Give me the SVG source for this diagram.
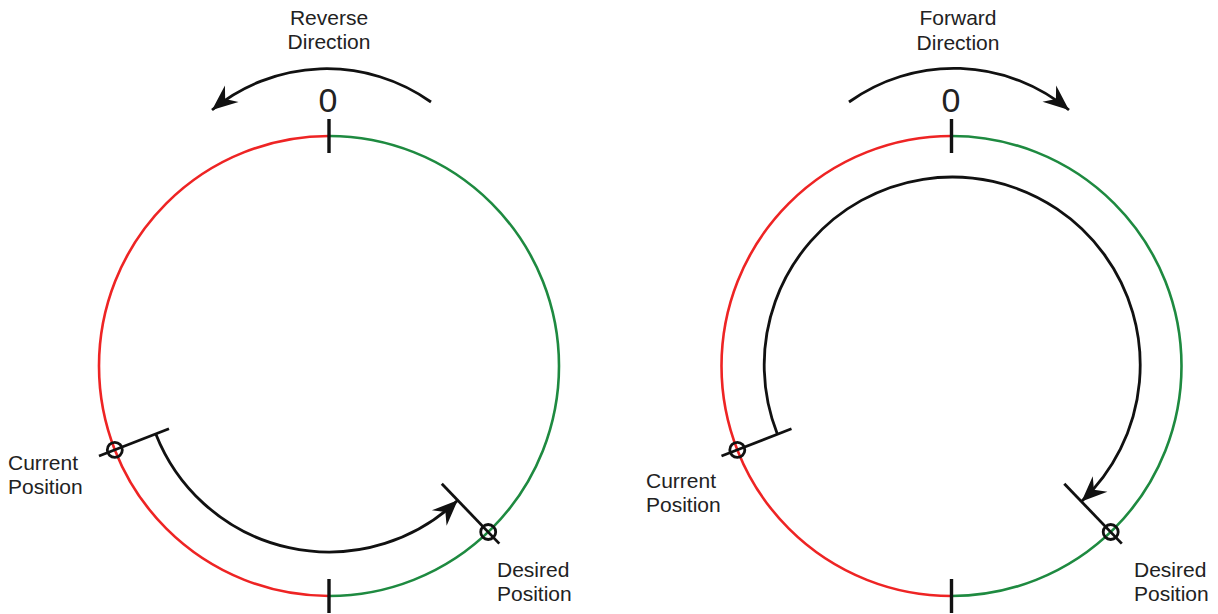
<svg xmlns="http://www.w3.org/2000/svg" width="1218" height="614" viewBox="0 0 1218 614">
<style>
.red{fill:none;stroke:#ee2424;stroke-width:2.6}
.green{fill:none;stroke:#1e8a40;stroke-width:2.6}
.blk{fill:none;stroke:#111;stroke-width:2.8}
.tick{fill:none;stroke:#111;stroke-width:3.4}
.mk{fill:none;stroke:#111;stroke-width:2.8}
.lbl{font-family:"Liberation Sans",Arial,sans-serif;font-size:21px;fill:#222}
.zero{font-family:"Liberation Sans",Arial,sans-serif;font-size:34px;fill:#222;text-anchor:middle}
.mid{text-anchor:middle}
</style>
<defs>
<marker id="arr" markerUnits="userSpaceOnUse" markerWidth="32" markerHeight="32" viewBox="-26 -13 30 26" refX="0" refY="0" orient="auto">
<path d="M0,0 L-24,-10 L-16,0 L-24,10 Z" fill="#111"/>
</marker>
</defs>

<g id="left-dial">
<path class="red" d="M329,136 A230,230 0 0 0 329,596"/>
<path class="green" d="M329,136 A230,230 0 0 1 329,596"/>
<line class="tick" x1="329" y1="119" x2="329" y2="153"/>
<line class="tick" x1="329" y1="579" x2="329" y2="613"/>
<text class="zero" x="328" y="112">0</text>
</g>
<g id="left-direction-label">
<text class="lbl mid" x="329" y="25">Reverse</text>
<text class="lbl mid" x="329" y="49">Direction</text>
</g>
<g id="left-current">
<line class="mk" x1="99" y1="456" x2="169" y2="428.8"/>
<circle class="mk" cx="114.8" cy="449.9" r="7.5"/>
<text class="lbl" x="8" y="470">Current</text>
<text class="lbl" x="8" y="494">Position</text>
</g>
<g id="left-desired">
<line class="mk" x1="441.8" y1="483.7" x2="499.3" y2="543.6"/>
<circle class="mk" cx="488.2" cy="532" r="7.5"/>
<text class="lbl" x="497" y="577">Desired</text>
<text class="lbl" x="497" y="601">Position</text>
</g>

<g id="right-dial">
<path class="red" d="M951.5,136 A230,230 0 0 0 951.5,596"/>
<path class="green" d="M951.5,136 A230,230 0 0 1 951.5,596"/>
<line class="tick" x1="951.5" y1="119" x2="951.5" y2="153"/>
<line class="tick" x1="951.5" y1="579" x2="951.5" y2="613"/>
<text class="zero" x="951" y="112">0</text>
</g>
<g id="right-direction-label">
<text class="lbl mid" x="958" y="25">Forward</text>
<text class="lbl mid" x="958" y="50">Direction</text>
</g>
<g id="right-current">
<line class="mk" x1="721.5" y1="456" x2="791.5" y2="428.8"/>
<circle class="mk" cx="737.3" cy="449.9" r="7.5"/>
<text class="lbl" x="646" y="488">Current</text>
<text class="lbl" x="646" y="512">Position</text>
</g>
<g id="right-desired">
<line class="mk" x1="1064.3" y1="483.7" x2="1121.8" y2="543.6"/>
<circle class="mk" cx="1110.7" cy="532" r="7.5"/>
<text class="lbl" x="1134" y="577">Desired</text>
<text class="lbl" x="1134" y="601">Position</text>
</g>

<g id="connectors">
<path class="blk" d="M431,102 A180,180 0 0 0 212,110" marker-end="url(#arr)"/>
<path class="blk" d="M155.8,433.9 A186,186 0 0 0 457.7,500.3" marker-end="url(#arr)"/>
<path class="blk" d="M849,102 A180,180 0 0 1 1069,110" marker-end="url(#arr)"/>
<path class="blk" d="M777.4,434.2 A188,188 0 1 1 1081.5,501.5" marker-end="url(#arr)"/>
</g>
</svg>
